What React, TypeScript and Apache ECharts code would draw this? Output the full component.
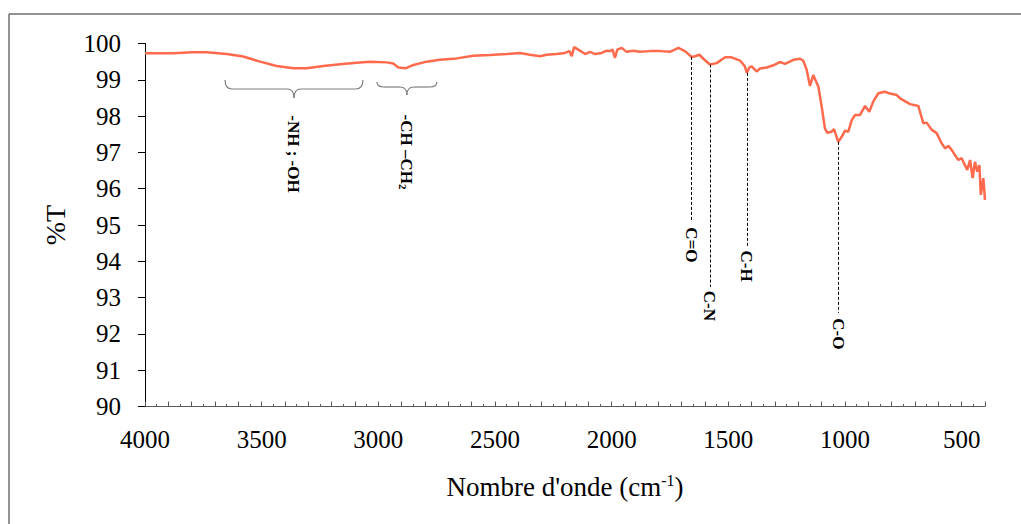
import React, { useEffect, useRef } from 'react';
import * as echarts from 'echarts';

// Spectrum (wavenumber in cm-1, %T)
const wavenumbers = [
  4000, 3879, 3800, 3736, 3650, 3579, 3507, 3436, 3364, 3307, 3236, 3164, 3093, 3036,
  2964, 2936, 2914, 2881, 2850, 2793, 2736, 2664, 2593, 2521, 2450, 2393, 2350, 2307,
  2279, 2236, 2200, 2181, 2171, 2161, 2143, 2114, 2093, 2071, 2043, 2024, 2007, 1996,
  1986, 1976, 1957, 1936, 1907, 1879, 1836, 1793, 1750, 1714, 1686, 1657, 1643, 1624,
  1607, 1579, 1550, 1514, 1486, 1450, 1429, 1421, 1410, 1400, 1379, 1364, 1336, 1307,
  1279, 1257, 1221, 1193, 1179, 1164, 1150, 1136, 1114, 1100, 1086, 1076, 1057, 1047,
  1029, 1014, 1000, 986, 971, 957, 936, 914, 896, 879, 857, 829, 807, 778, 764, 721,
  686, 664, 650, 628, 607, 586, 571, 557, 543, 529, 514, 500, 486, 476, 464, 453, 443,
  433, 424, 418, 407, 400,
];
const transmittance = [
  99.73, 99.73, 99.76, 99.76, 99.71, 99.64, 99.5, 99.38, 99.32, 99.32, 99.38, 99.43, 99.47, 99.5,
  99.48, 99.45, 99.34, 99.32, 99.41, 99.5, 99.55, 99.59, 99.66, 99.68, 99.71, 99.74, 99.69, 99.65,
  99.69, 99.71, 99.74, 99.79, 99.65, 99.9, 99.83, 99.71, 99.77, 99.71, 99.74, 99.8, 99.79, 99.83,
  99.6, 99.83, 99.88, 99.77, 99.8, 99.77, 99.79, 99.79, 99.77, 99.88, 99.79, 99.63, 99.65, 99.69,
  99.58, 99.42, 99.46, 99.62, 99.62, 99.53, 99.37, 99.19, 99.34, 99.37, 99.23, 99.31, 99.34, 99.4,
  99.49, 99.44, 99.55, 99.58, 99.53, 99.27, 98.83, 99.13, 98.81, 98.26, 97.66, 97.54, 97.57, 97.64,
  97.29, 97.43, 97.6, 97.57, 97.89, 98.03, 98.03, 98.28, 98.12, 98.4, 98.63, 98.67, 98.62, 98.58, 98.49, 98.33,
  98.28, 97.8, 97.82, 97.62, 97.53, 97.25, 97.11, 97.18, 97.07, 96.93, 96.79, 96.84, 96.65, 96.52, 96.79, 96.29, 96.74,
  96.47, 96.65, 95.83, 96.29, 95.69,
];

// Axes
const xMin = 400;
const xMax = 4000;
const xLabelStep = 500;
const yMin = 90;
const yMax = 100;

// Peak assignments (dotted drop lines)
const peakLabels = ['C=O', 'C-N', 'C-H', 'C-O'];
const peakPositions = [1657, 1579, 1421, 1029];
const peakTop = [99.63, 99.42, 99.19, 97.29];
const peakBottom = [95.08, 93.29, 94.37, 92.58];
const peakLabelCenter = [94.45, 92.77, 93.87, 92.0];

// Band assignments (braces)
const bandLabels = ['-NH ; -OH', '-CH –CH{sub|2}'];
const bandStart = [3657, 3006];
const bandEnd = [3066, 2749];

export default function App() {
  const ref = useRef<HTMLDivElement>(null);

  useEffect(() => {
    const chart = echarts.init(ref.current!, null, { renderer: 'svg' });
    const font = '"Liberation Serif", "Times New Roman", serif';
    const lineColor = '#FF6A4D';

    chart.setOption({
      animation: false,
      backgroundColor: '#ffffff',
      grid: { left: 145, right: 36, top: 43.5, bottom: 117.5, containLabel: false },
      xAxis: {
        type: 'value',
        inverse: true,
        min: xMin,
        max: xMax,
        interval: 100,
        name: "Nombre d'onde (cm{sup|-1})",
        nameLocation: 'middle',
        nameGap: 66,
        nameTextStyle: {
          fontFamily: font,
          fontSize: 27,
          color: '#000',
          rich: {
            sup: { fontFamily: font, fontSize: 16, color: '#000', padding: [0, 0, 12, 0] },
          },
        },
        axisLine: { show: true, lineStyle: { color: '#595959', width: 1 } },
        axisTick: { show: true, inside: true, length: 5, lineStyle: { color: '#595959' } },
        minorTick: { show: true, splitNumber: 2, length: 2.5, lineStyle: { color: '#595959' } },
        splitLine: { show: false },
        minorSplitLine: { show: false },
        axisLabel: {
          interval: 0,
          margin: 20,
          fontFamily: font,
          fontSize: 25,
          color: '#000',
          formatter: (v: number) => (v % xLabelStep === 0 ? String(v) : ''),
        },
      },
      yAxis: {
        type: 'value',
        min: yMin,
        max: yMax,
        interval: 1,
        name: '%T',
        nameLocation: 'middle',
        nameGap: 76,
        nameTextStyle: { fontFamily: font, fontSize: 28, color: '#000' },
        axisLine: { show: true, lineStyle: { color: '#000', width: 1 } },
        axisTick: { show: true, inside: false, length: 7, lineStyle: { color: '#000' } },
        splitLine: { show: false },
        axisLabel: { margin: 24, fontFamily: font, fontSize: 25, color: '#000' },
      },
      series: [
        {
          type: 'line',
          data: wavenumbers.map((w, i) => [w, transmittance[i]]),
          showSymbol: false,
          symbol: 'none',
          lineStyle: { color: lineColor, width: 2.5 },
          markLine: {
            silent: true,
            symbol: 'none',
            label: { show: false },
            lineStyle: { color: '#000', width: 1, type: [3, 2] },
            data: peakPositions.map((p, i) => [
              { coord: [p, peakTop[i]] },
              { coord: [p, peakBottom[i]] },
            ]),
          },
        },
      ],
    });

    const toPx = (wn: number, t: number) =>
      chart.convertToPixel({ seriesIndex: 0 }, [wn, t]) as number[];

    const graphics: any[] = [
      {
        type: 'rect',
        shape: { x: 9, y: 14, width: 1040, height: 540 },
        style: { fill: 'none', stroke: '#262626', lineWidth: 1 },
        silent: true,
      },
    ];

    const braceColor = '#7f7f7f';
    const braceTop = [80, 82];
    const braceLine = [89, 87];
    const braceTip = [98, 95];
    const bandLabelY = [154, 152];
    bandLabels.forEach((lab, i) => {
      const xs = toPx(bandStart[i], 99)[0];
      const xe = toPx(bandEnd[i], 99)[0];
      const xm = (xs + xe) / 2;
      const r = 7;
      const t = braceTop[i];
      const l = braceLine[i];
      const tip = braceTip[i];
      const st = { stroke: braceColor, lineWidth: 1.2, fill: 'none' };
      graphics.push(
        { type: 'bezierCurve', shape: { x1: xs, y1: t, cpx1: xs, cpy1: l, x2: xs + r, y2: l }, style: st },
        { type: 'line', shape: { x1: xs + r, y1: l, x2: xm - r, y2: l }, style: st },
        { type: 'bezierCurve', shape: { x1: xm - r, y1: l, cpx1: xm, cpy1: l, x2: xm, y2: tip }, style: st },
        { type: 'bezierCurve', shape: { x1: xm, y1: tip, cpx1: xm, cpy1: l, x2: xm + r, y2: l }, style: st },
        { type: 'line', shape: { x1: xm + r, y1: l, x2: xe - r, y2: l }, style: st },
        { type: 'bezierCurve', shape: { x1: xe - r, y1: l, cpx1: xe, cpy1: l, x2: xe, y2: t }, style: st },
        {
          type: 'text',
          x: xm,
          y: bandLabelY[i],
          rotation: -Math.PI / 2,
          style: {
            text: lab,
            fontFamily: font,
            fontSize: 17,
            fontWeight: 'bold',
            fill: '#000',
            align: 'center',
            verticalAlign: 'middle',
            rich: {
              sub: { fontFamily: font, fontSize: 11, fontWeight: 'bold', fill: '#000', padding: [8, 0, 0, 0] },
            },
          },
        },
      );
    });

    peakLabels.forEach((lab, i) => {
      const p = toPx(peakPositions[i], peakLabelCenter[i]);
      graphics.push({
        type: 'text',
        x: p[0],
        y: p[1],
        rotation: -Math.PI / 2,
        style: {
          text: lab,
          fontFamily: font,
          fontSize: 17,
          fontWeight: 'bold',
          fill: '#000',
          align: 'center',
          verticalAlign: 'middle',
        },
      });
    });

    chart.setOption({ graphic: graphics });

    return () => chart.dispose();
  }, []);

  return (
    <div
      ref={ref}
      style={{ position: 'fixed', left: 0, top: 0, width: 1021, height: 524, background: '#fff' }}
    />
  );
}
